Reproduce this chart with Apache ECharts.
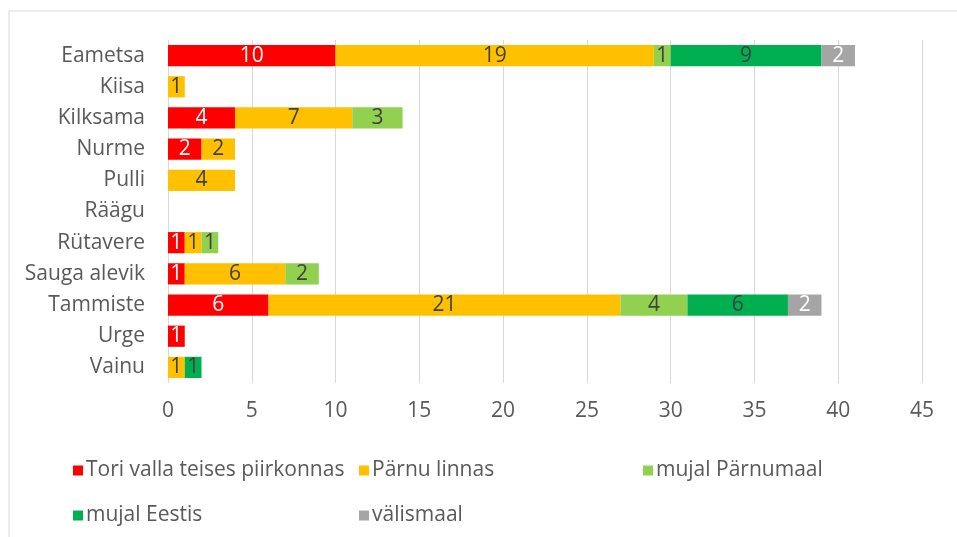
<!DOCTYPE html>
<html>
<head>
<meta charset="utf-8">
<script src="https://cdn.jsdelivr.net/npm/echarts@6/dist/echarts.min.js"></script>
<style>
html, body { margin: 0; padding: 0; background: #fff; }
#main { width: 957px; height: 537px; }
</style>
</head>
<body>
<div id="main"></div>
<script>
var categories = ['Eametsa', 'Kiisa', 'Kilksama', 'Nurme', 'Pulli', 'Räägu', 'Rütavere', 'Sauga alevik', 'Tammiste', 'Urge', 'Vainu'];
var seriesNames = ['Tori valla teises piirkonnas', 'Pärnu linnas', 'mujal Pärnumaal', 'mujal Eestis', 'välismaal'];
var toriVald = [10, 0, 4, 2, 0, 0, 1, 1, 6, 1, 0];
var parnuLinn = [19, 1, 7, 2, 4, 0, 1, 6, 21, 0, 1];
var mujalParnumaal = [1, 0, 3, 0, 0, 0, 1, 2, 4, 0, 0];
var mujalEestis = [9, 0, 0, 0, 0, 0, 0, 0, 6, 0, 1];
var valismaal = [2, 0, 0, 0, 0, 0, 0, 0, 2, 0, 0];
var xTicks = [0, 5, 10, 15, 20, 25, 30, 35, 40, 45];

var colors = ['#FF0000', '#FFC000', '#92D050', '#00B050', '#A5A5A5'];
var labelColors = ['#ffffff', '#404040', '#404040', '#404040', '#ffffff'];
var values = [toriVald, parnuLinn, mujalParnumaal, mujalEestis, valismaal];
var font = '"Open Sans", sans-serif';
var fs = 21;

var myChart = echarts.init(document.getElementById('main'));

var legendPos = [[68, 455], [354, 455], [638, 455], [68, 500], [354, 500]];
var legends = seriesNames.map(function (n, i) {
    return {
        data: [n],
        left: legendPos[i][0],
        top: legendPos[i][1],
        itemWidth: 10,
        itemHeight: 10,
        itemGap: 0,
        icon: 'rect',
        textStyle: { color: '#595959', fontSize: fs, fontFamily: font, padding: [0, 0, 0, -2] },
        selectedMode: false
    };
});

var series = seriesNames.map(function (n, i) {
    return {
        name: n,
        type: 'bar',
        stack: 'total',
        barCategoryGap: '32%',
        itemStyle: { color: colors[i] },
        label: {
            show: true,
            position: 'inside',
            color: labelColors[i],
            fontSize: fs,
            fontFamily: font,
            formatter: function (p) { return p.value ? p.value : ''; }
        },
        data: values[i].map(function (v) { return v === 0 ? null : v; })
    };
});

option = {
    backgroundColor: '#fff',
    animation: false,
    graphic: [{
        type: 'rect',
        shape: { x: 9, y: 11, width: 960, height: 540 },
        style: { fill: 'none', stroke: '#d9d9d9', lineWidth: 1 },
        silent: true
    }],
    legend: legends,
    grid: { left: 168, right: 35, top: 40, bottom: 154 },
    xAxis: {
        type: 'value',
        min: 0,
        max: 45,
        interval: 5,
        axisLine: { show: false },
        axisTick: { show: false },
        splitLine: { lineStyle: { color: '#d9d9d9', width: 1 } },
        axisLabel: {
            color: '#595959', fontSize: fs, fontFamily: font, margin: 18,
            formatter: function (v) { return xTicks.indexOf(v) >= 0 ? String(v) : ''; }
        }
    },
    yAxis: {
        type: 'category',
        inverse: true,
        data: categories,
        axisLine: { show: false },
        axisTick: { show: false },
        axisLabel: { color: '#595959', fontSize: fs, fontFamily: font, margin: 23 }
    },
    series: series
};
// 使用刚指定的配置项和数据显示图表。
myChart.setOption(option);
</script>
</body>
</html>
